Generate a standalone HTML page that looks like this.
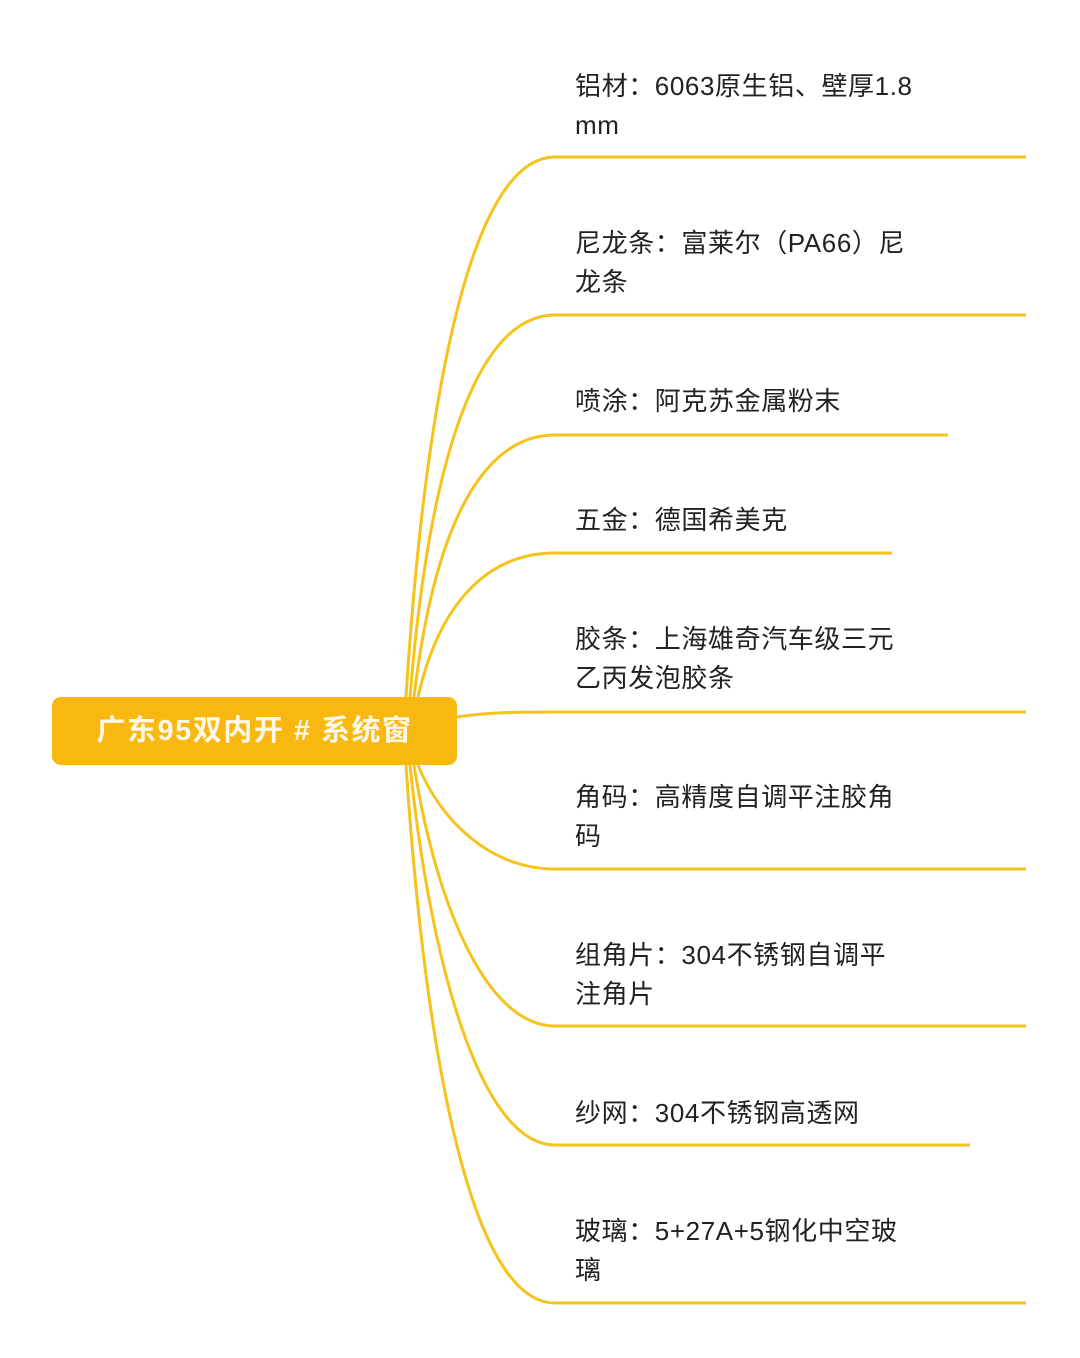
<!DOCTYPE html>
<html><head><meta charset="utf-8"><style>
body{margin:0;width:1080px;height:1358px;background:#fff;position:relative;overflow:hidden;font-family:"Liberation Sans","Noto Sans CJK SC",sans-serif;}
.t{position:absolute;left:575px;font-size:26px;line-height:39px;color:#222;white-space:nowrap;letter-spacing:0.6px;}
.node{position:absolute;left:52px;top:697px;width:405px;height:68px;background:#f8b810;border-radius:9px;color:#fff8e8;font-weight:bold;font-size:29px;line-height:68px;text-align:center;letter-spacing:1.5px;}
svg{position:absolute;left:0;top:0}
</style></head><body>
<svg width="1080" height="1358">
<g fill="none" stroke="#f5c31c" stroke-width="3">
<path d="M406,697 C425,400 470,157 555,157 L1026,157"/>
<path d="M410,697 C430,450 480,315 555,315 L1026,315"/>
<path d="M414,697 C435,520 485,435 555,435 L948,435"/>
<path d="M418,697 C440,600 490,553 555,553 L892,553"/>
<path d="M457,717 C490,712 520,712 555,712 L1026,712"/>
<path d="M418,765 C440,820 490,869 555,869 L1026,869"/>
<path d="M414,765 C435,900 485,1026 555,1026 L1026,1026"/>
<path d="M410,765 C430,960 480,1145 555,1145 L970,1145"/>
<path d="M406,765 C425,1050 470,1303 555,1303 L1026,1303"/>
</g>
</svg>
<div class="node">广东95双内开 # 系统窗</div>
<div class="t" style="top:67px">铝材：6063原生铝、壁厚1.8<br>mm</div>
<div class="t" style="top:224px">尼龙条：富莱尔（PA66）尼<br>龙条</div>
<div class="t" style="top:382px">喷涂：阿克苏金属粉末</div>
<div class="t" style="top:501px">五金：德国希美克</div>
<div class="t" style="top:620px">胶条：上海雄奇汽车级三元<br>乙丙发泡胶条</div>
<div class="t" style="top:778px">角码：高精度自调平注胶角<br>码</div>
<div class="t" style="top:936px">组角片：304不锈钢自调平<br>注角片</div>
<div class="t" style="top:1094px">纱网：304不锈钢高透网</div>
<div class="t" style="top:1212px">玻璃：5+27A+5钢化中空玻<br>璃</div>
</body></html>
